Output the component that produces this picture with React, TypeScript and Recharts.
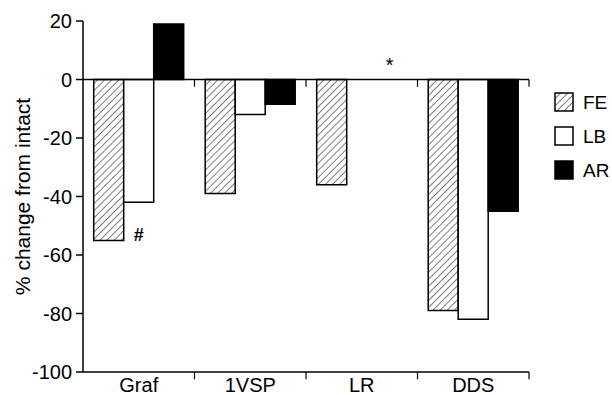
import React from 'react';
import { BarChart, Bar, XAxis, YAxis, ReferenceLine, ReferenceDot, Legend } from 'recharts';

const categories = ['Graf', '1VSP', 'LR', 'DDS'];
const seriesNames = ['FE', 'LB', 'AR'];
const feValues: (number | null)[] = [-55, -39, -36, -79];
const lbValues: (number | null)[] = [-42, -12, null, -82];
const arValues: (number | null)[] = [19, -8.5, null, -45];
const yTicks = [20, 0, -20, -40, -60, -80, -100];
const categoryBoundaries = [1, 2, 3, 4];
const annotations = [
  { x: 0.5, y: -53, text: '#' },
  { x: 2.75, y: 5, text: '*' },
];

const data = categories.map((name, i) => ({
  name,
  FE: feValues[i],
  LB: lbValues[i],
  AR: arValues[i],
  pos: i + 0.5,
}));

const FONT = '"Liberation Sans", Arial, Helvetica, sans-serif';

const fills: Record<string, string> = {
  FE: 'url(#hatchFE)',
  LB: '#ffffff',
  AR: '#000000',
};

const HatchDef = ({ id }: { id: string }) => (
  <pattern id={id} patternUnits="userSpaceOnUse" width={5} height={5} patternTransform="rotate(45)">
    <rect x={0} y={0} width={5} height={5} fill="#ffffff" />
    <line x1={0} y1={0} x2={0} y2={5} stroke="#000000" strokeWidth={1} />
  </pattern>
);

const renderLegend = (props: any) => {
  const payload = [...(props.payload || [])].sort(
    (a: any, b: any) => seriesNames.indexOf(String(a.value)) - seriesNames.indexOf(String(b.value))
  );
  return (
    <svg width={60} height={110} style={{ overflow: 'visible' }}>
      <defs>
        <HatchDef id="hatchLegend" />
      </defs>
      {payload.map((entry: any, i: number) => {
        const key = String(entry.value);
        const fill = key === 'FE' ? 'url(#hatchLegend)' : fills[key];
        return (
          <g key={key} transform={`translate(0, ${i * 34})`}>
            <rect x={1} y={1} width={18} height={18} fill={fill} stroke="#000" strokeWidth={1.5} />
            <text x={29} y={17} fontSize={19} fontFamily={FONT} fill="#000">
              {key}
            </text>
          </g>
        );
      })}
    </svg>
  );
};

const YLabel = (props: any) => {
  const vb = props.viewBox || {};
  const cx = (vb.x || 0) + 22;
  const cy = (vb.y || 0) + (vb.height || 0) / 2;
  return (
    <text
      x={cx}
      y={cy}
      transform={`rotate(-90, ${cx}, ${cy})`}
      textAnchor="middle"
      dominantBaseline="central"
      fontSize={21}
      fontFamily={FONT}
      fill="#000"
    >
      % change from intact
    </text>
  );
};

export default function App() {
  return (
    <div style={{ position: 'absolute', left: 0, top: 0, width: 612, height: 395, background: '#fff' }}>
      <BarChart
        width={612}
        height={395}
        data={data}
        margin={{ top: 21, right: 83, bottom: 0, left: 0 }}
        barCategoryGap="9.6%"
        barGap={0}
      >
        <defs>
          <HatchDef id="hatchFE" />
        </defs>
        <XAxis
          dataKey="name"
          height={23}
          tickLine={false}
          tickSize={0}
          tickMargin={6}
          axisLine={{ stroke: '#000', strokeWidth: 1.5 }}
          tick={{ fill: '#000', fontSize: 20, fontFamily: FONT }}
          interval={0}
        />
        <XAxis xAxisId="num" type="number" dataKey="pos" domain={[0, 4]} allowDataOverflow hide />
        <YAxis
          width={83}
          domain={[-100, 20]}
          ticks={yTicks}
          interval={0}
          allowDataOverflow
          tickSize={7}
          tickMargin={4}
          axisLine={{ stroke: '#000', strokeWidth: 1.5 }}
          tickLine={{ stroke: '#000', strokeWidth: 1.5 }}
          tick={{ fill: '#000', fontSize: 20, fontFamily: FONT }}
          label={{ content: <YLabel /> }}
        />
        <ReferenceLine y={0} stroke="#000" strokeWidth={1.5} />
        {categoryBoundaries.map((b) => (
          <ReferenceLine
            key={`z${b}`}
            xAxisId="num"
            segment={[{ x: b, y: 0 }, { x: b, y: -2.5 }]}
            stroke="#000"
            strokeWidth={1.2}
            ifOverflow="visible"
          />
        ))}
        {categoryBoundaries.map((b) => (
          <ReferenceLine
            key={`b${b}`}
            xAxisId="num"
            segment={[{ x: b, y: -100 }, { x: b, y: -102.5 }]}
            stroke="#000"
            strokeWidth={1.2}
            ifOverflow="visible"
          />
        ))}
        <Bar dataKey="FE" fill={fills.FE} stroke="#000" strokeWidth={1.5} isAnimationActive={false} />
        <Bar dataKey="LB" fill={fills.LB} stroke="#000" strokeWidth={1.5} isAnimationActive={false} />
        <Bar dataKey="AR" fill={fills.AR} stroke="#000" strokeWidth={1.5} isAnimationActive={false} />
        {annotations.map((a) => (
          <ReferenceDot
            key={a.text}
            xAxisId="num"
            x={a.x}
            y={a.y}
            r={0}
            stroke="none"
            fill="none"
            ifOverflow="visible"
            label={{ value: a.text, position: 'center', fill: '#000', fontSize: a.text === '*' ? 20 : 18, fontWeight: a.text === '#' ? 'bold' : 'normal', fontFamily: FONT }}
          />
        ))}
        <Legend
          layout="vertical"
          align="center"
          verticalAlign="middle"
          content={renderLegend}
          wrapperStyle={{ left: 554, top: 92, width: 60, height: 110 }}
        />
      </BarChart>
    </div>
  );
}
